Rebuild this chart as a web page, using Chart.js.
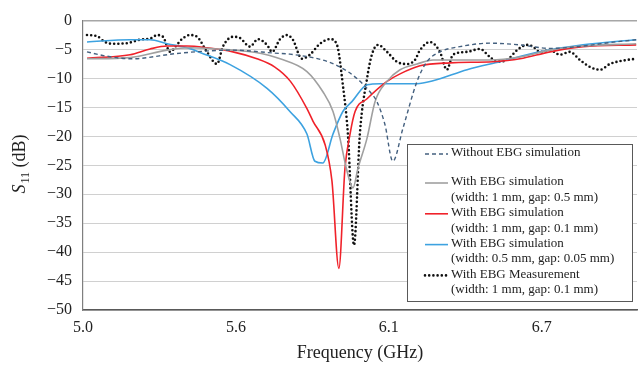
<!DOCTYPE html>
<html>
<head>
<meta charset="utf-8">
<script src="https://cdn.jsdelivr.net/npm/chart.js@4.4.0/dist/chart.umd.min.js"></script>
<style>
  html, body { margin: 0; padding: 0; background: #fff; }
  #wrap { width: 638px; height: 365px; }
</style>
</head>
<body>
<div id="wrap"><canvas id="chart" width="638" height="365"></canvas></div>
<script>
// Frequencies in GHz and S11 in dB
const noEbgF  = [5.015, 5.083, 5.18, 5.35, 5.45, 5.564, 5.617, 5.714, 5.778, 5.90, 5.966, 6.03, 6.079, 6.105, 6.135, 6.165, 6.203, 6.256, 6.293, 6.342, 6.417, 6.53, 6.643, 6.756, 6.88, 6.98, 7.08];
const noEbgDb = [-5.4, -6.1, -6.6, -5.7, -5.3, -5.1, -5.2, -5.6, -5.8, -6.8, -8.0, -10.0, -12.3, -14.0, -17.9, -24.3, -18.6, -10.5, -7.1, -5.4, -4.5, -3.9, -4.2, -4.8, -4.4, -3.8, -3.3];

const gap05F  = [5.015, 5.177, 5.316, 5.402, 5.564, 5.65, 5.741, 5.842, 5.902, 5.94, 5.966, 5.99, 6.015, 6.034, 6.068, 6.098, 6.143, 6.192, 6.256, 6.316, 6.53, 6.643, 6.756, 6.88, 7.08];
const gap05Db = [-6.6, -6.4, -5.1, -4.7, -5.1, -5.5, -6.6, -8.8, -12.3, -15.7, -20.3, -25.5, -28.9, -25.5, -20.3, -14.0, -10.5, -8.5, -7.5, -6.8, -6.8, -6.3, -5.1, -4.4, -4.0];

const gap01F  = [5.015, 5.177, 5.252, 5.316, 5.391, 5.466, 5.564, 5.654, 5.72, 5.78, 5.842, 5.865, 5.91, 5.936, 5.962, 5.985, 6.004, 6.023, 6.068, 6.143, 6.192, 6.267, 6.38, 6.541, 6.643, 6.756, 6.88, 7.08];
const gap01Db = [-6.5, -5.9, -4.9, -4.4, -4.4, -4.7, -5.4, -6.6, -8.0, -10.5, -15.2, -17.4, -21.4, -27.7, -42.8, -25.5, -19.6, -15.7, -13.5, -10.5, -9.2, -7.8, -7.3, -7.1, -6.6, -5.4, -4.5, -4.2];

const gap005F  = [5.015, 5.177, 5.252, 5.316, 5.40, 5.44, 5.553, 5.692, 5.778, 5.842, 5.872, 5.902, 5.94, 5.977, 6.011, 6.068, 6.117, 6.256, 6.316, 6.444, 6.568, 6.718, 6.88, 7.08];
const gap005Db = [-3.7, -3.3, -3.3, -4.0, -4.8, -5.5, -7.6, -11.7, -15.7, -19.6, -24.3, -24.6, -19.6, -15.7, -14.0, -11.1, -10.9, -10.9, -10.4, -8.5, -7.1, -5.4, -4.2, -3.3];

const measF  = [5.015, 5.053, 5.083, 5.109, 5.165, 5.214, 5.259, 5.278, 5.301, 5.327, 5.353, 5.372, 5.402, 5.429, 5.466, 5.504, 5.526, 5.564, 5.59, 5.628, 5.658, 5.692, 5.711, 5.741, 5.767, 5.789, 5.823, 5.853, 5.891, 5.929, 5.955, 5.977, 5.996, 6.019, 6.041, 6.068, 6.086, 6.109, 6.143, 6.18, 6.218, 6.248, 6.267, 6.305, 6.342, 6.368, 6.391, 6.444, 6.492, 6.53, 6.556, 6.594, 6.632, 6.669, 6.692, 6.718, 6.756, 6.793, 6.831, 6.868, 6.906, 6.944, 6.981, 7.045, 7.08];
const measDb = [-2.5, -2.7, -3.7, -4.0, -3.9, -3.3, -3.0, -2.5, -2.8, -5.4, -4.2, -3.2, -2.5, -2.8, -5.4, -7.5, -4.5, -2.8, -3.0, -4.5, -3.2, -4.2, -5.4, -3.2, -2.5, -3.3, -6.6, -5.9, -4.0, -3.2, -4.2, -11.1, -19.6, -38.8, -19.6, -10.0, -5.9, -4.2, -5.4, -7.1, -7.5, -6.8, -5.1, -3.7, -5.4, -8.5, -5.9, -5.4, -4.9, -6.3, -7.1, -6.8, -5.1, -4.2, -4.5, -5.4, -5.1, -5.9, -5.4, -6.8, -8.0, -8.5, -7.5, -6.8, -6.6];

const xTickVals = [5.0, 5.575, 6.15, 6.725];
const xTickLabels = ["5.0", "5.6", "6.1", "6.7"];

const legendLabels = [
  ["Without EBG simulation"],
  ["With EBG simulation", "(width: 1 mm, gap: 0.5 mm)"],
  ["With EBG simulation", "(width: 1 mm, gap: 0.1 mm)"],
  ["With EBG simulation", "(width: 0.5 mm, gap: 0.05 mm)"],
  ["With EBG Measurement", "(width: 1 mm, gap: 0.1 mm)"]
];

const SERIF = '"Liberation Serif", "Times New Roman", serif';

function pts(xs, ys) {
  return xs.map((x, i) => ({ x: x, y: ys[i] }));
}

// axis titles (S11 needs italic + subscript) and the boxed legend
const extras = {
  id: "extras",
  afterDraw(chart) {
    const ctx = chart.ctx;
    const area = chart.chartArea;

    // y title
    ctx.save();
    ctx.fillStyle = "#222";
    ctx.textBaseline = "alphabetic";
    ctx.translate(19, 164);
    ctx.rotate(-Math.PI / 2);
    const fItal = "italic 18px " + SERIF;
    const fSub = "12px " + SERIF;
    const fNorm = "18px " + SERIF;
    ctx.font = fItal; const wS = ctx.measureText("S").width;
    ctx.font = fSub; const w11 = ctx.measureText("11").width;
    ctx.font = fNorm; const wRest = ctx.measureText(" (dB)").width;
    let x0 = -(wS + w11 + 1 + wRest) / 2;
    ctx.font = fItal; ctx.fillText("S", x0, 6);
    ctx.font = fSub; ctx.fillText("11", x0 + wS + 1, 10);
    ctx.font = fNorm; ctx.fillText(" (dB)", x0 + wS + w11 + 1, 6);
    ctx.restore();

    // x title
    ctx.save();
    ctx.fillStyle = "#222";
    ctx.font = "18px " + SERIF;
    ctx.textAlign = "center";
    ctx.textBaseline = "middle";
    ctx.fillText("Frequency (GHz)", (area.left + area.right) / 2, 353);
    ctx.restore();

    // legend box
    const bx = 407, by = 144, bw = 225, bh = 157;
    ctx.save();
    ctx.fillStyle = "#fff";
    ctx.fillRect(bx, by, bw, bh);
    ctx.strokeStyle = "#595959";
    ctx.lineWidth = 1;
    ctx.strokeRect(bx + 0.5, by + 0.5, bw, bh);
    ctx.font = "13px " + SERIF;
    ctx.textBaseline = "middle";
    const rows = [153, 182, 212.8, 243.6, 274.4];
    chart.data.datasets.forEach((ds, i) => {
      const y = rows[i];
      ctx.save();
      ctx.strokeStyle = ds.borderColor;
      ctx.lineWidth = ds.borderWidth;
      ctx.lineCap = ds.borderCapStyle || "butt";
      ctx.setLineDash(ds.borderDash || []);
      ctx.beginPath();
      ctx.moveTo(425, y + 1);
      ctx.lineTo(448, y + 1);
      ctx.stroke();
      ctx.restore();
      ctx.fillStyle = "#222";
      legendLabels[i].forEach((t, j) => {
        ctx.fillText(t, 451, y + j * 15.4);
      });
    });
    ctx.restore();
  }
};

new Chart(document.getElementById("chart"), {
  type: "line",
  data: {
    datasets: [
      {
        label: legendLabels[0].join(" "),
        data: pts(noEbgF, noEbgDb),
        borderColor: "#44607f",
        borderWidth: 1.4,
        borderDash: [4, 3],
        cubicInterpolationMode: "monotone"
      },
      {
        label: legendLabels[1].join(" "),
        data: pts(gap05F, gap05Db),
        borderColor: "#a0a0a0",
        borderWidth: 1.6,
        cubicInterpolationMode: "monotone"
      },
      {
        label: legendLabels[2].join(" "),
        data: pts(gap01F, gap01Db),
        borderColor: "#f0222a",
        borderWidth: 1.6,
        cubicInterpolationMode: "monotone"
      },
      {
        label: legendLabels[3].join(" "),
        data: pts(gap005F, gap005Db),
        borderColor: "#3da2e0",
        borderWidth: 1.6,
        cubicInterpolationMode: "monotone"
      },
      {
        label: legendLabels[4].join(" "),
        data: pts(measF, measDb),
        borderColor: "#111",
        borderWidth: 2.6,
        borderDash: [0, 4.2],
        borderCapStyle: "round",
        cubicInterpolationMode: "monotone"
      }
    ]
  },
  options: {
    responsive: false,
    animation: false,
    devicePixelRatio: 1,
    elements: { point: { radius: 0 } },
    layout: { padding: { top: 18, right: 1, left: 0, bottom: 0 } },
    plugins: { legend: { display: false }, tooltip: { enabled: false } },
    scales: {
      x: {
        type: "linear",
        min: 5.0,
        max: 7.083,
        afterFit: (s) => { s.height = 55; },
        afterBuildTicks: (s) => { s.ticks = xTickVals.map((v) => ({ value: v })); },
        grid: { drawOnChartArea: false, drawTicks: false },
        border: { display: true, color: "#595959", width: 1.5 },
        ticks: {
          padding: 8,
          color: "#222",
          font: { family: SERIF, size: 16 },
          maxRotation: 0,
          callback: (v, i) => xTickLabels[i]
        }
      },
      y: {
        min: -50,
        max: 0,
        afterFit: (s) => { s.width = 83; },
        grid: {
          drawTicks: false,
          color: (c) => (c.tick && c.tick.value === 0 ? "#a6a6a6" : "#d0d0d0"),
          lineWidth: (c) => (c.tick && c.tick.value === 0 ? 1.5 : 1)
        },
        border: { display: true, color: "#7f7f7f", width: 1.2 },
        ticks: {
          stepSize: 5,
          padding: 11,
          color: "#222",
          font: { family: SERIF, size: 16 },
          callback: (v) => (v < 0 ? "\u2212" + Math.abs(v) : String(v))
        }
      }
    }
  },
  plugins: [extras]
});
</script>
</body>
</html>
